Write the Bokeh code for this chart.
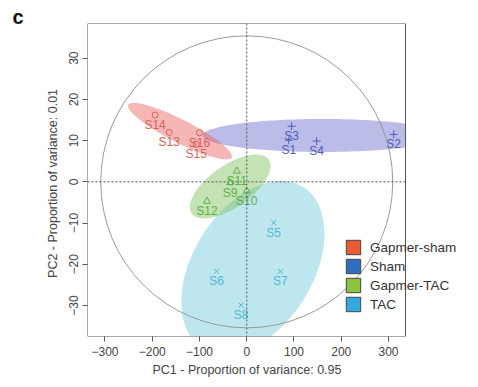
from bokeh.plotting import figure
from bokeh.models import ColumnDataSource, Legend, LegendItem, Span, FixedTicker, Title
from bokeh.embed import file_html
from bokeh.resources import INLINE
from bokeh.core.properties import value
import numpy as np

# ---- data ----
groups = ["Gapmer-sham", "Sham", "Gapmer-TAC", "TAC"]
gs_names = ["S13", "S14", "S15", "S16"]
gs_pc1 = [-164, -194, -107, -100]
gs_pc2 = [12.0, 16.2, 9.1, 11.9]
sh_names = ["S1", "S2", "S3", "S4"]
sh_pc1 = [89, 311, 95, 148]
sh_pc2 = [10.1, 11.5, 13.5, 9.9]
gt_names = ["S9", "S10", "S11", "S12"]
gt_pc1 = [-35, 0, -21, -84]
gt_pc2 = [-0.2, -2.2, 2.6, -4.7]
tac_names = ["S5", "S6", "S7", "S8"]
tac_pc1 = [57, -64, 71, -12]
tac_pc2 = [-9.9, -21.7, -21.7, -29.9]
x_ticks = [-300, -200, -100, 0, 100, 200, 300]
y_ticks = [-30, -20, -10, 0, 10, 20, 30]
x_label = "PC1  -  Proportion of variance: 0.95"
y_label = "PC2  -  Proportion of variance: 0.01"

# axis limits of the boxed plotting area
XLIM = (-337, 336)
YLIM = (-37.5, 38.4)

FONT = "Liberation Sans"

BOX_W, FRAME_W, FRAME_H = 318, 383, 313
x_end = XLIM[0] + FRAME_W * (XLIM[1] - XLIM[0]) / BOX_W
sx = FRAME_W / (x_end - XLIM[0])
sy = FRAME_H / (YLIM[1] - YLIM[0])

p = figure(frame_width=FRAME_W, frame_height=FRAME_H, x_range=(XLIM[0], x_end), y_range=YLIM,
           output_backend="svg", toolbar_location=None,
           min_border_left=87, min_border_top=23, min_border_right=4, min_border_bottom=4)
p.background_fill_color = "white"
p.border_fill_color = "white"
p.xgrid.visible = False
p.ygrid.visible = False
p.outline_line_color = None

# panel label
t = Title(text="c", align="left", offset=-75, standoff=-8,
          text_font=FONT, text_font_style="bold", text_font_size="20px", text_color="#111111")
p.add_layout(t, "above")

def ellipse_poly(cx, cy, a_px, b_px, ang_deg, n=200):
    th = np.linspace(0, 2 * np.pi, n)
    r = np.deg2rad(ang_deg)
    px = a_px * np.cos(th) * np.cos(r) - b_px * np.sin(th) * np.sin(r)
    py = a_px * np.cos(th) * np.sin(r) + b_px * np.sin(th) * np.cos(r)
    xs = np.minimum(cx + px / sx, XLIM[1])
    ys = np.maximum(cy + py / sy, YLIM[0])
    return xs, ys

# group ellipses (centred on group means); semi-axes in screen px, angle in degrees
ell = [
    (sh_pc1, sh_pc2, 120, 16.5, 0, "#6A6ACB"),
    (gs_pc1, gs_pc2, 58, 11.5, -27, "#E8605A"),
    (tac_pc1, tac_pc2, 95, 60, 58, "#6CC8DC"),
    (gt_pc1, gt_pc2, 47, 21, 35, "#7DC05A"),
]
for xs, ys, a, b, ang, col in ell:
    ex, ey = ellipse_poly(float(np.mean(xs)), float(np.mean(ys)), a, b, ang)
    p.patch(ex, ey, fill_color=col, fill_alpha=0.45, line_color=None)

# correlation circle
p.ellipse(x=[0], y=[0], width=2 * 146 / sx, height=2 * 146 / sy, fill_color=None,
          line_color="#9a9a9a", line_width=1)

# dotted zero lines
p.segment(x0=[XLIM[0]], y0=[0], x1=[XLIM[1]], y1=[0], line_color="#555555", line_dash="2 2", line_width=1)
p.add_layout(Span(location=0, dimension="height", line_color="#555555", line_dash="2 2", line_width=1))

# box
p.quad(left=[XLIM[0]], right=[XLIM[1]], bottom=[YLIM[0]], top=[YLIM[1]],
       fill_color=None, line_color="#555555", line_width=1)

pts = [
    (gs_names, gs_pc1, gs_pc2, "circle", 6, "#E0605C"),
    (sh_names, sh_pc1, sh_pc2, "cross", 8, "#4F5FB8"),
    (gt_names, gt_pc1, gt_pc2, "triangle", 7, "#5DAE4F"),
    (tac_names, tac_pc1, tac_pc2, "x", 7, "#52BAD6"),
]
for names, xs, ys, mk, sz, col in pts:
    src = ColumnDataSource(dict(x=xs, y=ys, t=names))
    p.scatter("x", "y", source=src, marker=mk, size=sz, line_color=col,
              fill_color=None, line_width=1)
    p.text("x", "y", text="t", source=src, text_color=col, text_font=value(FONT),
           text_font_size="12px", text_align="center", text_baseline="middle", y_offset=10)

# axes
for ax in (p.xaxis, p.yaxis):
    ax.axis_line_color = None
    ax.major_tick_line_color = "#555555"
    ax.major_tick_out = 5
    ax.major_tick_in = 0
    ax.minor_tick_line_color = None
    ax.major_label_text_font = FONT
    ax.major_label_text_font_size = "12px"
    ax.major_label_text_color = "#444444"
    ax.axis_label_text_font = FONT
    ax.axis_label_text_font_size = "12.5px"
    ax.axis_label_text_font_style = "normal"
    ax.axis_label_text_color = "#444444"
p.xaxis.ticker = FixedTicker(ticks=x_ticks)
p.yaxis.ticker = FixedTicker(ticks=y_ticks)
p.yaxis.axis_label = y_label
p.xaxis.major_label_standoff = 5
p.yaxis.major_label_standoff = 4
p.yaxis.major_label_orientation = "vertical"
p.yaxis.axis_label_standoff = 7

# x-axis label, centred under the boxed area
xl = Title(text=x_label, align="left", offset=65, standoff=4,
           text_font=FONT, text_font_size="12.5px", text_font_style="normal", text_color="#444444")
p.add_layout(xl, "below")

# legend
leg_cols = ["#EE5A34", "#2F6FBE", "#8BC43F", "#35A8E0"]
items = []
for g, c in zip(groups, leg_cols):
    r = p.quad(left=[np.nan], right=[np.nan], top=[np.nan], bottom=[np.nan],
               fill_color=c, line_color="#444444", line_width=1)
    items.append(LegendItem(label=g, renderers=[r]))
legend = Legend(items=items, location=(257, 23), glyph_width=18, glyph_height=18,
                spacing=1, padding=0, margin=0, label_standoff=8,
                label_text_font=FONT, label_text_font_size="13.5px", label_text_color="#333333",
                border_line_color=None, background_fill_alpha=0)
p.add_layout(legend)

open("out.html", "w").write(file_html(p, INLINE))
